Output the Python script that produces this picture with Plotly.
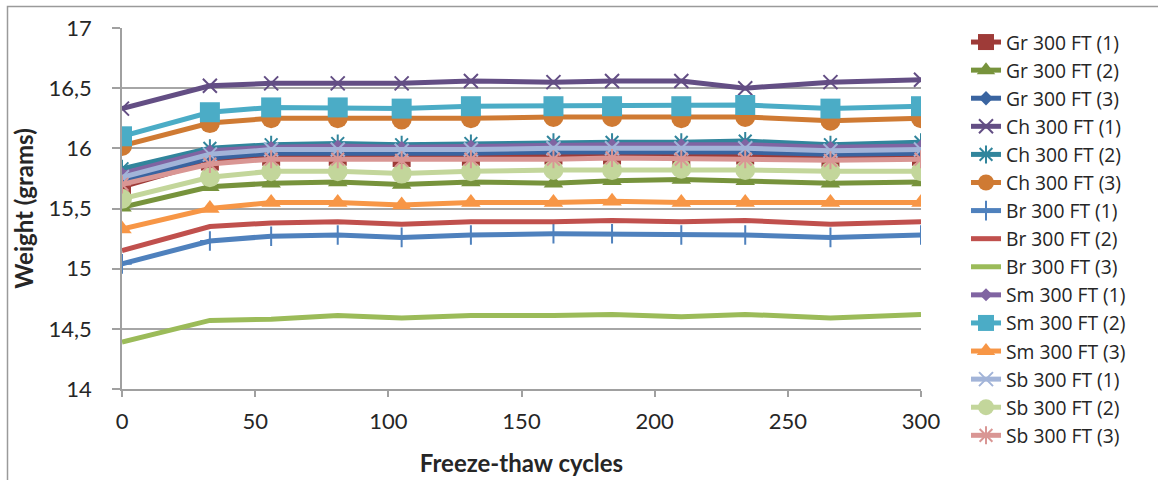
import plotly.graph_objects as go

# ---------------- data ----------------
cycles = [0, 33, 56, 81, 105, 131, 162, 184, 210, 234, 266, 300]

series_names = [
    "Gr 300 FT (1)", "Gr 300 FT (2)", "Gr 300 FT (3)",
    "Ch 300 FT (1)", "Ch 300 FT (2)", "Ch 300 FT (3)",
    "Br 300 FT (1)", "Br 300 FT (2)", "Br 300 FT (3)",
    "Sm 300 FT (1)", "Sm 300 FT (2)", "Sm 300 FT (3)",
    "Sb 300 FT (1)", "Sb 300 FT (2)", "Sb 300 FT (3)",
]

gr1 = [15.68, 15.89, 15.93, 15.93, 15.92, 15.93, 15.94, 15.94, 15.93, 15.94, 15.92, 15.93]
gr2 = [15.51, 15.68, 15.71, 15.72, 15.70, 15.72, 15.71, 15.73, 15.74, 15.73, 15.71, 15.72]
gr3 = [15.73, 15.92, 15.96, 15.96, 15.95, 15.96, 15.97, 15.97, 15.96, 15.97, 15.95, 15.96]
ch1 = [16.33, 16.52, 16.54, 16.54, 16.54, 16.56, 16.55, 16.56, 16.56, 16.50, 16.55, 16.57]
ch2 = [15.83, 16.00, 16.03, 16.04, 16.03, 16.04, 16.05, 16.05, 16.05, 16.06, 16.03, 16.05]
ch3 = [16.02, 16.21, 16.25, 16.25, 16.24, 16.25, 16.26, 16.26, 16.25, 16.26, 16.23, 16.25]
br1 = [15.04, 15.23, 15.27, 15.28, 15.26, 15.28, 15.29, 15.29, 15.28, 15.28, 15.26, 15.28]
br2 = [15.15, 15.35, 15.38, 15.39, 15.37, 15.39, 15.39, 15.40, 15.39, 15.40, 15.37, 15.39]
br3 = [14.39, 14.57, 14.58, 14.61, 14.59, 14.61, 14.61, 14.62, 14.60, 14.62, 14.59, 14.62]
sm1 = [15.79, 15.98, 16.01, 16.02, 16.01, 16.02, 16.03, 16.03, 16.03, 16.03, 16.01, 16.02]
sm2 = [16.10, 16.30, 16.34, 16.34, 16.33, 16.35, 16.35, 16.35, 16.35, 16.36, 16.33, 16.35]
sm3 = [15.33, 15.50, 15.55, 15.55, 15.53, 15.55, 15.55, 15.56, 15.55, 15.55, 15.55, 15.55]
sb1 = [15.76, 15.95, 15.99, 15.99, 15.98, 15.99, 16.00, 16.00, 16.00, 16.00, 15.98, 15.99]
sb2 = [15.58, 15.76, 15.81, 15.81, 15.79, 15.81, 15.82, 15.82, 15.83, 15.82, 15.81, 15.81]
sb3 = [15.70, 15.87, 15.91, 15.91, 15.90, 15.91, 15.91, 15.92, 15.91, 15.91, 15.90, 15.91]

series_values = [gr1, gr2, gr3, ch1, ch2, ch3, br1, br2, br3, sm1, sm2, sm3, sb1, sb2, sb3]

y_tick_vals = [14, 14.5, 15, 15.5, 16, 16.5, 17]
y_tick_text = ["14", "14,5", "15", "15,5", "16", "16,5", "17"]
x_tick_vals = [0, 50, 100, 150, 200, 250, 300]

# ---------------- styles ----------------
colors = [
    "#9E3B38", "#77933C", "#3A64A0",
    "#634E84", "#31859C", "#CF7A33",
    "#4F81BD", "#C0504D", "#9BBB59",
    "#8064A2", "#4BACC6", "#F79646",
    "#A2B4D8", "#C3D69B", "#D99694",
]
symbols = [
    "square", "triangle-up", "diamond",
    "x-thin-open", "asterisk-open", "circle",
    "cross-thin-open", None, None,
    "diamond", "square", "triangle-up",
    "x-thin-open", "circle", "asterisk-open",
]
sizes = [18, 17, 11, 14, 15, 20, 14, 0, 0, 10, 20, 17, 14, 20, 15]

FONT = "Lato, 'Open Sans', sans-serif"
LEG_FONT = "'Open Sans', Lato, sans-serif"

fig = go.Figure()
for name, vals, col, sym, sz in zip(series_names, series_values, colors, symbols, sizes):
    if sym is None:
        fig.add_trace(go.Scatter(
            x=cycles, y=vals, name=name, mode="lines",
            line=dict(color=col, width=5),
        ))
    else:
        is_open = sym.endswith("open")
        fig.add_trace(go.Scatter(
            x=cycles, y=vals, name=name, mode="lines+markers",
            line=dict(color=col, width=5),
            marker=dict(symbol=sym, size=sz, color=col,
                        line=dict(color=col, width=2 if is_open else 0)),
        ))

# layout geometry (pixels)
W, H = 1158, 480
L, R = 122, 921          # x-axis extent
GS_T, GS_B = 12, 472     # paper area top / bottom
AX_T, AX_B = 28, 389     # y-axis extent (17 -> 14)

def px_x(p):
    return (p - L) / (R - L)

def px_y(p):
    return (GS_B - p) / (GS_B - GS_T)

# chart border frame (cropped at right and bottom like the reference)
fig.add_shape(type="rect", xref="paper", yref="paper",
              x0=px_x(7.5), x1=px_x(1170), y0=px_y(490), y1=px_y(6.5),
              line=dict(color="#9A9A9A", width=1.5), fillcolor="rgba(0,0,0,0)",
              layer="below")

fig.update_layout(
    width=W, height=H, autosize=False,
    margin=dict(l=L, r=W - R, t=GS_T, b=H - GS_B),
    paper_bgcolor="white", plot_bgcolor="white",
    font=dict(family=FONT, color="#262626"),
    separators=", ",
    showlegend=True,
    legend=dict(
        x=px_x(966), y=px_y(23), xanchor="left", yanchor="top",
        font=dict(family=LEG_FONT, size=19.3, color="#262626"),
        bgcolor="rgba(0,0,0,0)", borderwidth=0,
        tracegroupgap=0,
    ),
    xaxis=dict(
        range=[0, 300], tickvals=x_tick_vals,
        showgrid=False, zeroline=False, automargin=False,
        showline=True, linecolor="#A0A0A0", linewidth=1.5,
        ticks="outside", ticklen=6, tickcolor="#A0A0A0", tickwidth=1.5,
        tickfont=dict(family=FONT, size=22, color="#262626"),
        ticklabelstandoff=6,
        title=dict(text="<b>Freeze-thaw cycles</b>", standoff=22,
                   font=dict(family=FONT, size=24, color="#262626")),
    ),
    yaxis=dict(
        domain=[px_y(AX_B), px_y(AX_T)],
        range=[14, 17], tickvals=y_tick_vals, ticktext=y_tick_text,
        showgrid=True, gridcolor="#A6A6A6", gridwidth=1.5,
        zeroline=False, automargin=False,
        showline=True, linecolor="#A0A0A0", linewidth=1.5,
        ticks="outside", ticklen=8, tickcolor="#A0A0A0", tickwidth=1.5,
        tickfont=dict(family=FONT, size=22, color="#262626"),
        ticklabelstandoff=16,
        title=dict(text="<b>Weight (grams)</b>", standoff=8,
                   font=dict(family=FONT, size=24, color="#262626")),
    ),
)

fig.write_html("out.html")
